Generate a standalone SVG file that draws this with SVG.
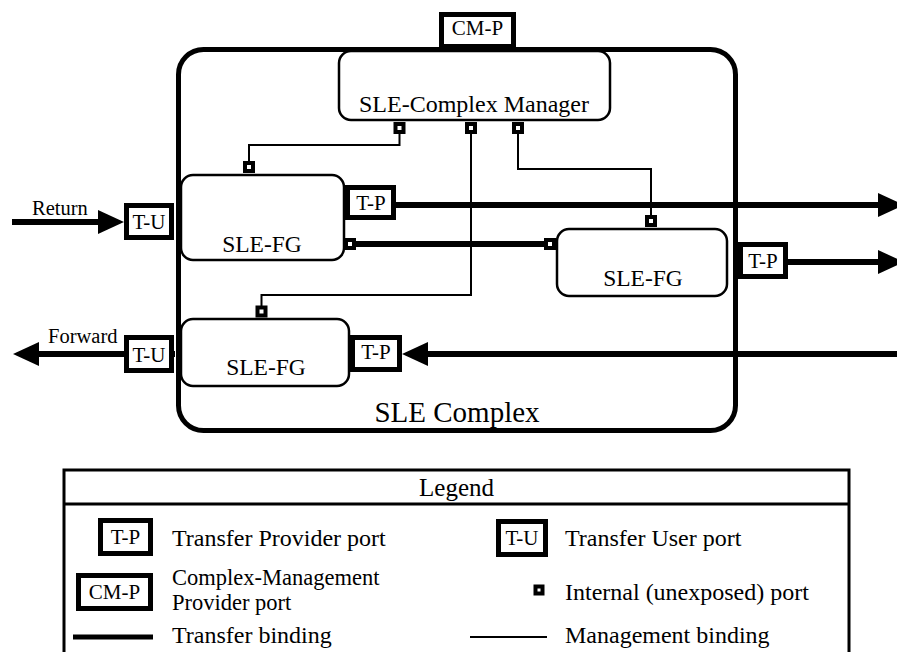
<svg xmlns="http://www.w3.org/2000/svg" width="897" height="652" viewBox="0 0 897 652">
<style>
text{font-family:"Liberation Serif","Times New Roman",serif;fill:#000}
.port{fill:#fff;stroke:#000;stroke-width:5}
.ip{fill:#fff;stroke:#000;stroke-width:4}
.fg{fill:#fff;stroke:#000;stroke-width:2.5}
.tb{fill:none;stroke:#000;stroke-width:6}
.mb{fill:none;stroke:#000;stroke-width:2}
.pt{font-size:21px;text-anchor:middle}
.ft{font-size:23.5px;text-anchor:middle}
.lt{font-size:24px}
.al{font-size:20.5px}
</style>
<defs>
<marker id="ah" markerUnits="userSpaceOnUse" markerWidth="26" markerHeight="24" refX="0" refY="12" orient="auto" overflow="visible"><path d="M0,0 L26,12 L0,24 Z" fill="#000"/></marker>
</defs>
<rect width="897" height="652" fill="#fff"/>

<g id="sle-complex">
<rect x="178.5" y="49.5" width="557" height="381" rx="25" fill="#fff" stroke="#000" stroke-width="5"/>
<text x="457" y="422" style="font-size:29px;text-anchor:middle">SLE Complex</text>
</g>

<g id="connectors">
<path class="tb" d="M12,222 H98" marker-end="url(#ah)"/>
<path class="tb" d="M175,354 H39" marker-end="url(#ah)"/>
<path class="tb" d="M395,205 H878" marker-end="url(#ah)"/>
<path class="tb" d="M788,262 H878" marker-end="url(#ah)"/>
<path class="tb" d="M897,354 H428" marker-end="url(#ah)"/>
<path class="tb" d="M356,244 H544"/>
<path class="mb" d="M399.5,134 V145 H249 V163"/>
<path class="mb" d="M471,134 V295 H261.5 V307"/>
<path class="mb" d="M518,134 V169 H651 V217"/>
<text class="al" x="32" y="215">Return</text>
<text class="al" x="48" y="343">Forward</text>
</g>

<g id="cm-p">
<rect class="port" x="441.5" y="14.5" width="72" height="32"/>
<text class="pt" x="477.5" y="35">CM-P</text>
</g>

<g id="manager">
<rect class="fg" x="339" y="51" width="271" height="69" rx="12"/>
<text x="474" y="112" style="font-size:24px;text-anchor:middle">SLE-Complex Manager</text>
<rect class="ip" x="395.5" y="124" width="8" height="8"/>
<rect class="ip" x="467" y="124" width="8" height="8"/>
<rect class="ip" x="514" y="124" width="8" height="8"/>
</g>

<g id="fg1">
<rect class="fg" x="181" y="175" width="163" height="85" rx="12"/>
<text class="ft" x="262" y="252">SLE-FG</text>
<rect class="ip" x="245" y="163" width="8" height="8"/>
<rect class="ip" x="346" y="240" width="8" height="8"/>
<rect class="port" x="126.5" y="205.5" width="45" height="32"/>
<text class="pt" x="149" y="229">T-U</text>
<rect class="port" x="347.5" y="187.5" width="46" height="30"/>
<text class="pt" x="371" y="210">T-P</text>
</g>

<g id="fg2">
<rect class="fg" x="557" y="229" width="170" height="67" rx="12"/>
<text class="ft" x="643" y="286">SLE-FG</text>
<rect class="ip" x="546" y="240" width="8" height="8"/>
<rect class="ip" x="647" y="217" width="8" height="8"/>
<rect class="port" x="740.5" y="244.5" width="45" height="32"/>
<text class="pt" x="763" y="268">T-P</text>
</g>

<g id="fg3">
<rect class="fg" x="181" y="319" width="168" height="67" rx="12"/>
<text class="ft" x="266" y="375">SLE-FG</text>
<rect class="ip" x="257.5" y="307.5" width="8" height="8"/>
<rect class="port" x="126.5" y="337.5" width="45" height="33"/>
<text class="pt" x="149" y="362">T-U</text>
<rect class="port" x="352.5" y="337.5" width="47" height="32"/>
<text class="pt" x="376" y="359">T-P</text>
</g>

<g id="legend">
<rect x="64" y="470" width="785" height="200" fill="#fff" stroke="#000" stroke-width="3"/>
<line x1="64" y1="504" x2="849" y2="504" stroke="#000" stroke-width="3"/>
<text x="456.5" y="496" style="font-size:25px;text-anchor:middle">Legend</text>
<rect class="port" x="100.5" y="520.5" width="50" height="33"/>
<text class="pt" x="125.5" y="544">T-P</text>
<text class="lt" x="172" y="546">Transfer Provider port</text>
<rect class="port" x="498.5" y="521.5" width="47" height="33"/>
<text class="pt" x="522" y="545">T-U</text>
<text class="lt" x="565" y="546">Transfer User port</text>
<rect class="port" x="78.5" y="575.5" width="72" height="33"/>
<text class="pt" x="114.5" y="599">CM-P</text>
<text x="172" y="585" style="font-size:22.5px">Complex-Management</text>
<text x="172" y="610" style="font-size:22.5px">Provider port</text>
<rect class="ip" x="535.5" y="586.5" width="7" height="7"/>
<text class="lt" x="565" y="600">Internal (unexposed) port</text>
<line x1="73" y1="637" x2="153" y2="637" stroke="#000" stroke-width="5"/>
<text class="lt" x="172" y="643">Transfer binding</text>
<line x1="470" y1="637" x2="547" y2="637" stroke="#000" stroke-width="2"/>
<text class="lt" x="565" y="643">Management binding</text>
</g>
</svg>
